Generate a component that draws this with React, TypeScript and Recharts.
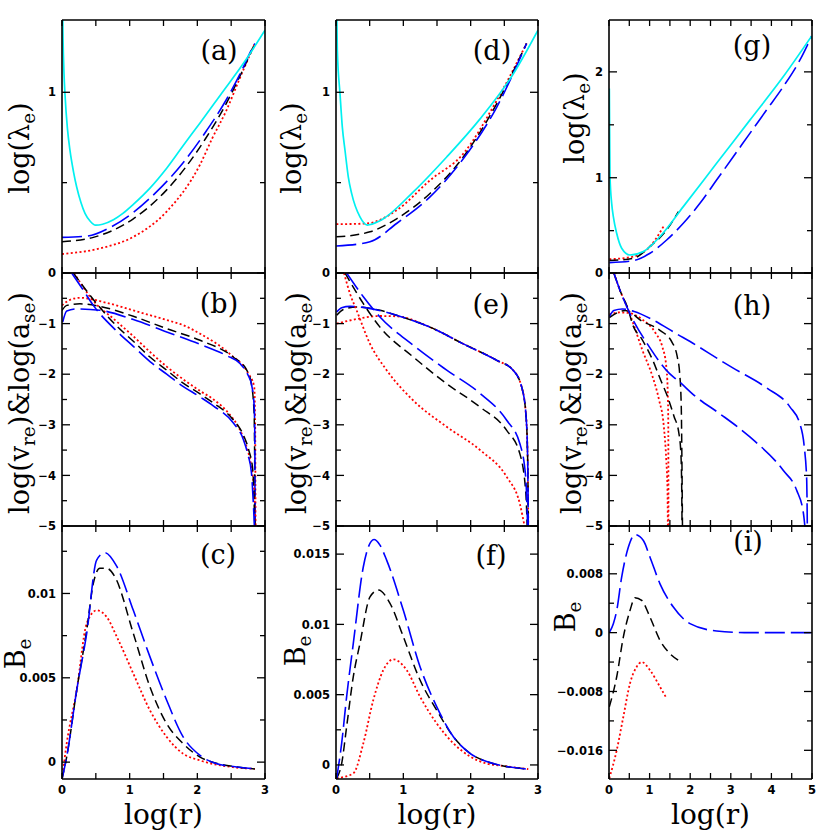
import React from 'react';
import { LineChart, Line, XAxis, YAxis } from 'recharts';

type Pt = [number, number];

// ---- (a) log(lambda_e), column 1 ----
const aCyan: Pt[] = [[0.004, 1.6], [0.015, 1.3], [0.03, 1.1], [0.044, 0.99], [0.08, 0.8], [0.118, 0.678], [0.17, 0.56], [0.217, 0.476], [0.28, 0.39], [0.34, 0.33], [0.42, 0.285], [0.497, 0.265], [0.6, 0.27], [0.76, 0.295], [0.9, 0.33], [1.054, 0.38], [1.3, 0.47], [1.547, 0.58], [1.8, 0.71], [2.04, 0.83], [2.36, 0.995], [2.7, 1.17], [3.0, 1.344]];
const aBlue: Pt[] = [[0, 0.197], [0.365, 0.204], [0.71, 0.252], [1.054, 0.335], [1.4, 0.45], [1.79, 0.61], [2.14, 0.79], [2.43, 0.96], [2.63, 1.1], [2.83, 1.257], [2.85, 1.27]];
const aBlack: Pt[] = [[0, 0.173], [0.463, 0.197], [1.054, 0.3], [1.547, 0.46], [2.12, 0.743], [2.43, 0.94], [2.63, 1.09], [2.85, 1.27]];
const aRed: Pt[] = [[0, 0.105], [0.56, 0.136], [1.054, 0.2], [1.547, 0.34], [2.04, 0.6], [2.22, 0.745], [2.43, 0.9], [2.63, 1.08], [2.85, 1.27]];

// ---- (b) log(v_re) & log(a_se), column 1 ----
const bBlueA: Pt[] = [[0.01, -0.97], [0.07, -0.75], [0.217, -0.71], [0.56, -0.737], [1.054, -0.92], [1.547, -1.165], [2.04, -1.41], [2.43, -1.63], [2.63, -1.79], [2.75, -2.02], [2.8, -2.2], [2.84, -2.63], [2.85, -3.3], [2.852, -5.05]];
const bBlackA: Pt[] = [[0, -0.74], [0.07, -0.64], [0.266, -0.61], [0.56, -0.66], [1.054, -0.856], [1.547, -1.1], [2.04, -1.33], [2.53, -1.66], [2.73, -1.92], [2.8, -2.2], [2.84, -2.8], [2.853, -5.05]];
const bRedA: Pt[] = [[0, -0.64], [0.118, -0.53], [0.266, -0.49], [0.66, -0.59], [1.054, -0.74], [1.547, -0.93], [1.79, -1.03], [2.04, -1.2], [2.48, -1.6], [2.75, -1.98], [2.84, -2.24], [2.855, -3.04], [2.86, -5.05]];
const bBlueV: Pt[] = [[0.143, 0], [0.315, -0.34], [0.463, -0.64], [0.81, -1.15], [1.054, -1.45], [1.3, -1.75], [1.547, -2.0], [1.744, -2.2], [2.04, -2.45], [2.24, -2.63], [2.53, -2.96], [2.68, -3.29], [2.75, -3.6], [2.8, -3.95], [2.83, -4.61], [2.845, -5.05]];
const bBlackV: Pt[] = [[0.167, 0], [0.34, -0.31], [0.51, -0.6], [0.81, -1.05], [1.054, -1.35], [1.3, -1.66], [1.547, -1.92], [1.744, -2.13], [2.04, -2.39], [2.24, -2.57], [2.53, -2.9], [2.68, -3.2], [2.76, -3.5], [2.82, -3.9], [2.85, -5.05]];
const bRedV: Pt[] = [[0.177, 0], [0.315, -0.28], [0.414, -0.47], [0.81, -0.96], [1.054, -1.25], [1.3, -1.56], [1.547, -1.85], [1.79, -2.1], [2.04, -2.33], [2.24, -2.5], [2.48, -2.8], [2.63, -3.1], [2.72, -3.4], [2.8, -3.85], [2.84, -4.3], [2.86, -5.05]];

// ---- (c) B_e, column 1 ----
const cBlue: Pt[] = [[0, -0.001], [0.069, 0.0003], [0.217, 0.00426], [0.365, 0.00763], [0.512, 0.01198], [0.635, 0.01242], [0.81, 0.0116], [1.054, 0.009], [1.3, 0.00624], [1.547, 0.00367], [1.79, 0.0015], [2.04, 0.0004], [2.29, -0.0001], [2.53, -0.00026], [2.85, -0.0004]];
const cBlack: Pt[] = [[0, -0.001], [0.069, 0.0003], [0.217, 0.00426], [0.365, 0.00783], [0.463, 0.0106], [0.56, 0.01149], [0.66, 0.01149], [0.78, 0.011], [1.054, 0.00763], [1.3, 0.00446], [1.547, 0.00228], [1.79, 0.0011], [2.04, 0.0003], [2.53, -0.00026], [2.85, -0.0004]];
const cRed: Pt[] = [[0, -0.001], [0.069, 0.0011], [0.217, 0.00426], [0.365, 0.00822], [0.512, 0.009], [0.66, 0.00861], [0.81, 0.00743], [1.054, 0.00525], [1.3, 0.00307], [1.547, 0.00149], [1.79, 0.0005], [2.04, 0.0001], [2.53, -0.0003], [2.85, -0.0004]];

// ---- (d) log(lambda_e), column 2 ----
const dCyan: Pt[] = [[0.004, 1.6], [0.02, 1.23], [0.06, 0.99], [0.094, 0.807], [0.134, 0.678], [0.183, 0.531], [0.233, 0.439], [0.356, 0.31], [0.465, 0.265], [0.653, 0.289], [1.148, 0.449], [1.644, 0.642], [2.14, 0.853], [2.63, 1.1], [3.0, 1.344]];
const dBlue: Pt[] = [[0.005, 0.149], [0.505, 0.173], [0.9, 0.274], [1.396, 0.421], [1.89, 0.632], [2.386, 0.917], [2.83, 1.27]];
const dBlack: Pt[] = [[0.005, 0.2], [0.505, 0.228], [0.9, 0.3], [1.396, 0.44], [1.89, 0.642], [2.386, 0.936], [2.83, 1.27]];
const dRed: Pt[] = [[0.005, 0.27], [0.455, 0.274], [0.9, 0.347], [1.396, 0.513], [1.89, 0.66], [2.386, 0.954], [2.83, 1.27]];

// ---- (e) log(v_re) & log(a_se), column 2 ----
const eBlueA: Pt[] = [[0.01, -0.77], [0.084, -0.685], [0.208, -0.66], [0.455, -0.69], [0.9, -0.836], [1.396, -1.07], [1.89, -1.4], [2.386, -1.725], [2.63, -1.92], [2.757, -2.25], [2.82, -2.78], [2.847, -3.7], [2.856, -5.05]];
const eBlackA: Pt[] = [[0.01, -0.835], [0.109, -0.72], [0.307, -0.67], [0.653, -0.737], [0.9, -0.836], [1.396, -1.07], [1.89, -1.4], [2.386, -1.725], [2.63, -1.92], [2.757, -2.25], [2.82, -2.78], [2.847, -3.7], [2.856, -5.05]];
const eRedA: Pt[] = [[0.01, -1.0], [0.307, -0.91], [0.653, -0.85], [0.9, -0.856], [1.396, -1.07], [1.89, -1.4], [2.386, -1.725], [2.63, -1.92], [2.757, -2.25], [2.82, -2.78], [2.847, -3.7], [2.856, -5.05]];
const eBlueV: Pt[] = [[0.158, 0], [0.406, -0.47], [0.653, -0.87], [1.148, -1.43], [1.644, -1.92], [2.14, -2.38], [2.535, -2.91], [2.73, -3.37], [2.817, -4.03], [2.847, -5.05]];
const eBlackV: Pt[] = [[0.134, 0], [0.406, -0.606], [0.653, -1.07], [1.148, -1.66], [1.644, -2.19], [2.14, -2.65], [2.535, -3.11], [2.73, -3.57], [2.82, -4.36], [2.84, -5.05]];
const eRedV: Pt[] = [[0.119, 0], [0.208, -0.41], [0.307, -0.74], [0.505, -1.4], [0.752, -1.92], [1.148, -2.52], [1.644, -3.04], [2.14, -3.5], [2.535, -4.03], [2.73, -4.56], [2.807, -5.05]];

// ---- (f) B_e, column 2 ----
const fBlue: Pt[] = [[0.01, -0.00095], [0.084, 0.00154], [0.158, 0.00486], [0.257, 0.00865], [0.406, 0.0141], [0.48, 0.0155], [0.564, 0.01604], [0.653, 0.01564], [0.752, 0.01457], [1.0, 0.011], [1.248, 0.00699], [1.495, 0.00415], [1.743, 0.00201], [1.99, 0.00083], [2.238, 0.00024], [2.485, -0.00007], [2.856, -0.0003]];
const fBlack: Pt[] = [[0.01, -0.00095], [0.084, 0.0001], [0.158, 0.00272], [0.257, 0.00628], [0.356, 0.00865], [0.505, 0.01196], [0.629, 0.01244], [0.802, 0.0115], [1.0, 0.00912], [1.248, 0.00604], [1.495, 0.0039], [1.743, 0.00201], [1.99, 0.00083], [2.238, 0.00024], [2.485, -0.00007], [2.856, -0.0003]];
const fRed: Pt[] = [[0.01, -0.00095], [0.257, -0.0006], [0.406, 0.00154], [0.554, 0.00462], [0.703, 0.00675], [0.851, 0.00751], [1.05, 0.00675], [1.248, 0.00486], [1.495, 0.00296], [1.743, 0.00154], [1.99, 0.0006], [2.238, 0.0001], [2.485, -0.00007], [2.856, -0.0003]];

// ---- (g) log(lambda_e), column 3 ----
const gCyan: Pt[] = [[0.008, 1.843], [0.016, 1.418], [0.025, 1.01], [0.066, 0.758], [0.107, 0.632], [0.189, 0.475], [0.312, 0.334], [0.517, 0.27], [0.846, 0.302], [1.256, 0.444], [1.83, 0.727], [2.65, 1.136], [3.47, 1.544], [4.29, 1.953], [4.99, 2.337]];
const gBlue: Pt[] = [[0.008, 0.198], [0.6, 0.217], [1.01, 0.287], [1.42, 0.412], [1.83, 0.57], [2.24, 0.758], [2.65, 0.978], [3.06, 1.198], [3.47, 1.419], [3.88, 1.639], [4.29, 1.859], [4.7, 2.11], [4.99, 2.337]];
const gBlack: Pt[] = [[0.008, 0.217], [0.6, 0.239], [1.01, 0.35], [1.42, 0.507], [1.71, 0.68]];
const gRed: Pt[] = [[0.008, 0.23], [0.6, 0.255], [1.01, 0.35], [1.34, 0.538]];

// ---- (h) log(v_re) & log(a_se), column 3 ----
const hBlueA: Pt[] = [[0.008, -0.86], [0.12, -0.74], [0.33, -0.71], [0.62, -0.76], [1.07, -0.92], [1.64, -1.19], [2.13, -1.42], [2.71, -1.71], [3.06, -1.88], [3.88, -2.27], [4.46, -2.65], [4.7, -2.98], [4.81, -3.44], [4.87, -4.1], [4.885, -5.05]];
const hBlackA: Pt[] = [[0.008, -0.88], [0.4, -0.74], [0.82, -0.955], [1.23, -1.12], [1.56, -1.38], [1.68, -1.65], [1.74, -1.98], [1.78, -2.64], [1.795, -3.62], [1.81, -5.05]];
const hRedA: Pt[] = [[0.008, -0.82], [0.25, -0.78], [0.49, -0.79], [0.82, -0.92], [1.15, -1.19], [1.31, -1.45], [1.41, -1.84], [1.445, -2.31], [1.46, -2.96], [1.465, -5.05]];
const hBlueV: Pt[] = [[0.12, 0], [0.27, -0.34], [0.49, -0.76], [0.985, -1.45], [1.48, -1.98], [1.72, -2.14], [2.13, -2.44], [2.71, -2.77], [3.47, -3.24], [4.29, -3.9], [4.62, -4.29], [4.79, -4.755], [4.83, -5.05]];
const hBlackV: Pt[] = [[0.12, 0], [0.27, -0.34], [0.49, -0.76], [0.57, -0.99], [0.82, -1.32], [1.07, -1.71], [1.27, -2.11], [1.44, -2.44], [1.6, -2.83], [1.72, -3.16], [1.77, -3.56], [1.79, -4.2], [1.8, -5.05]];
const hRedV: Pt[] = [[0.12, 0], [0.27, -0.34], [0.49, -0.76], [0.62, -1.05], [0.82, -1.52], [1.07, -2.04], [1.23, -2.5], [1.35, -3.03], [1.41, -3.69], [1.44, -4.28], [1.45, -5.05]];

// ---- (i) B_e, column 3 ----
const iBlue: Pt[] = [[0.008, 0], [0.107, 0.00122], [0.19, 0.003], [0.312, 0.00755], [0.476, 0.0116], [0.64, 0.01333], [0.846, 0.01252], [1.01, 0.01026], [1.256, 0.00664], [1.585, 0.00348], [1.995, 0.00122], [2.65, 0.00023], [3.47, 0], [4.99, 0]];
const iBlack: Pt[] = [[0.008, -0.0101], [0.19, -0.006], [0.353, -0.0006], [0.517, 0.003], [0.64, 0.00475], [0.805, 0.00438], [1.01, 0.0021], [1.256, -0.00104], [1.5, -0.00285], [1.71, -0.00375]];
const iRed: Pt[] = [[0.008, -0.0198], [0.19, -0.016], [0.353, -0.01144], [0.517, -0.0069], [0.68, -0.00466], [0.805, -0.004], [1.01, -0.0051], [1.256, -0.00737], [1.42, -0.00895]];

// ---- axes ----
const xTicks3 = [0, 0.5, 1, 1.5, 2, 2.5, 3];
const xLabels3 = [0, 1, 2, 3];
const xTicks5 = [0, 0.5, 1, 1.5, 2, 2.5, 3, 3.5, 4, 4.5, 5];
const xLabels5 = [0, 1, 2, 3, 4, 5];
const lamTicks = [0.5, 1];
const lamLabels = [1];
const gTicks = [0.5, 1, 1.5, 2];
const gLabels = [1, 2];
const velTicks = [0, -0.5, -1, -1.5, -2, -2.5, -3, -3.5, -4, -4.5, -5];
const velLabels = [0, -1, -2, -3, -4, -5];
const cTicks = [0, 0.0025, 0.005, 0.0075, 0.01, 0.0125];
const cLabels = [0, 0.005, 0.01];
const fTicks = [0, 0.0025, 0.005, 0.0075, 0.01, 0.0125, 0.015];
const fLabels = [0, 0.005, 0.01, 0.015];
const iTicks = [-0.016, -0.012, -0.008, -0.004, 0, 0.004, 0.008, 0.012];
const iLabels = [-0.016, -0.008, 0, 0.008];

const BLUE = '#0000ff';
const BLACK = '#000000';
const RED = '#ff0000';
const CYAN = '#00f0f0';

const COLS = [{ left: 62, width: 203 }, { left: 336, width: 202 }, { left: 609, width: 203 }];
const ROWS = [{ top: 20, height: 253 }, { top: 273, height: 253 }, { top: 526, height: 253 }];

type Style = 'cyan' | 'blue' | 'black' | 'red';
const lineStyle: Record<Style, { stroke: string; dash?: string; w: number }> = {
  cyan: { stroke: CYAN, w: 1.7 },
  blue: { stroke: BLUE, dash: '20 6', w: 1.6 },
  black: { stroke: BLACK, dash: '9 5', w: 1.5 },
  red: { stroke: RED, dash: '2 2.4', w: 1.8 },
};

type Panel = {
  col: number;
  row: number;
  xDomain: [number, number];
  xTicks: number[];
  xLabels: number[];
  yDomain: [number, number];
  yTicks: number[];
  yLabels: number[];
  series: [Pt[], Style][];
};

const panels: Panel[] = [
  { col: 0, row: 0, xDomain: [0, 3], xTicks: xTicks3, xLabels: [], yDomain: [0, 1.4], yTicks: lamTicks, yLabels: lamLabels, series: [[aRed, 'red'], [aBlack, 'black'], [aBlue, 'blue'], [aCyan, 'cyan']] },
  { col: 0, row: 1, xDomain: [0, 3], xTicks: xTicks3, xLabels: [], yDomain: [-5, 0], yTicks: velTicks, yLabels: velLabels, series: [[bRedA, 'red'], [bBlackA, 'black'], [bBlueA, 'blue'], [bRedV, 'red'], [bBlackV, 'black'], [bBlueV, 'blue']] },
  { col: 0, row: 2, xDomain: [0, 3], xTicks: xTicks3, xLabels: xLabels3, yDomain: [-0.001, 0.014], yTicks: cTicks, yLabels: cLabels, series: [[cRed, 'red'], [cBlack, 'black'], [cBlue, 'blue']] },
  { col: 1, row: 0, xDomain: [0, 3], xTicks: xTicks3, xLabels: [], yDomain: [0, 1.4], yTicks: lamTicks, yLabels: lamLabels, series: [[dRed, 'red'], [dBlack, 'black'], [dBlue, 'blue'], [dCyan, 'cyan']] },
  { col: 1, row: 1, xDomain: [0, 3], xTicks: xTicks3, xLabels: [], yDomain: [-5, 0], yTicks: velTicks, yLabels: velLabels, series: [[eRedA, 'red'], [eBlackA, 'black'], [eBlueA, 'blue'], [eRedV, 'red'], [eBlackV, 'black'], [eBlueV, 'blue']] },
  { col: 1, row: 2, xDomain: [0, 3], xTicks: xTicks3, xLabels: xLabels3, yDomain: [-0.001, 0.017], yTicks: fTicks, yLabels: fLabels, series: [[fRed, 'red'], [fBlack, 'black'], [fBlue, 'blue']] },
  { col: 2, row: 0, xDomain: [0, 5], xTicks: xTicks5, xLabels: [], yDomain: [0.1, 2.49], yTicks: gTicks, yLabels: gLabels, series: [[gRed, 'red'], [gBlack, 'black'], [gBlue, 'blue'], [gCyan, 'cyan']] },
  { col: 2, row: 1, xDomain: [0, 5], xTicks: xTicks5, xLabels: [], yDomain: [-5, 0], yTicks: velTicks, yLabels: velLabels, series: [[hRedA, 'red'], [hBlackA, 'black'], [hBlueA, 'blue'], [hRedV, 'red'], [hBlackV, 'black'], [hBlueV, 'blue']] },
  { col: 2, row: 2, xDomain: [0, 5], xTicks: xTicks5, xLabels: xLabels5, yDomain: [-0.0199, 0.0145], yTicks: iTicks, yLabels: iLabels, series: [[iRed, 'red'], [iBlack, 'black'], [iBlue, 'blue']] },
];

const letters = [
  { t: '(a)', x: 219, y: 50 }, { t: '(b)', x: 219, y: 303 }, { t: '(c)', x: 218, y: 554 },
  { t: '(d)', x: 492, y: 50 }, { t: '(e)', x: 491, y: 304 }, { t: '(f)', x: 491, y: 555 },
  { t: '(g)', x: 752, y: 45 }, { t: '(h)', x: 752, y: 305 }, { t: '(i)', x: 748, y: 541 },
];

const tickFont: React.CSSProperties = { fontFamily: '"DejaVu Sans", sans-serif', fontWeight: 'bold', fontSize: 11.5, fill: '#000' };
const serif = '"DejaVu Serif", serif';

const has = (arr: number[], v: number) => arr.some((a) => Math.abs(a - v) < 1e-9);
const fmt = (v: number) => (v < 0 ? '\u2212' : '') + String(Math.abs(v));

type Side = 'bottom' | 'top' | 'left' | 'right';

// ticks point into the plot; labels only where asked
const tickFor = (side: Side, labels: number[], showText: boolean) => (props: any) => {
  const { x, y, payload } = props;
  const v = payload.value as number;
  const lab = has(labels, v);
  const len = side === 'left' || side === 'right' ? (lab ? 8 : 5) : 6;
  let x2 = x;
  let y2 = y;
  if (side === 'bottom') y2 = y - len;
  if (side === 'top') y2 = y + len;
  if (side === 'left') x2 = x + len;
  if (side === 'right') x2 = x - len;
  return (
    <g>
      <line x1={x} y1={y} x2={x2} y2={y2} stroke="#000" strokeWidth={1.3} />
      {showText && lab && side === 'bottom' && (
        <text x={x} y={y + 15} textAnchor="middle" style={tickFont}>{fmt(v)}</text>
      )}
      {showText && lab && side === 'left' && (
        <text x={x - 6} y={y + 4.2} textAnchor="end" style={tickFont}>{fmt(v)}</text>
      )}
    </g>
  );
};

// outer space around each plot box (axes take 1px of it)
const ML = 62;
const MR = 8;
const MT = 10;
const MB = 26;

function PanelChart({ p }: { p: Panel }) {
  const c = COLS[p.col];
  const r = ROWS[p.row];
  const axisLine = { stroke: '#000', strokeWidth: 1.6 };
  return (
    <div style={{ position: 'absolute', left: c.left - ML, top: r.top - MT }}>
      <LineChart width={c.width + ML + MR} height={r.height + MT + MB} margin={{ top: MT - 1, right: MR - 1, bottom: MB - 1, left: ML - 1 }}>
        <XAxis xAxisId="b" dataKey="x" type="number" domain={p.xDomain} ticks={p.xTicks} interval={0} allowDataOverflow height={1} tickSize={0} tickMargin={0} axisLine={axisLine} tickLine={false} tick={tickFor('bottom', p.xLabels, true)} />
        <XAxis xAxisId="t" orientation="top" dataKey="x" type="number" domain={p.xDomain} ticks={p.xTicks} interval={0} allowDataOverflow height={1} tickSize={0} tickMargin={0} axisLine={axisLine} tickLine={false} tick={tickFor('top', [], false)} />
        <YAxis yAxisId="l" type="number" domain={p.yDomain} ticks={p.yTicks} interval={0} allowDataOverflow width={1} tickSize={0} tickMargin={0} axisLine={axisLine} tickLine={false} tick={tickFor('left', p.yLabels, true)} />
        <YAxis yAxisId="r" orientation="right" type="number" domain={p.yDomain} ticks={p.yTicks} interval={0} allowDataOverflow width={1} tickSize={0} tickMargin={0} axisLine={axisLine} tickLine={false} tick={tickFor('right', p.yLabels, false)} />
        {p.series.map(([pts, st], i) => {
          const s = lineStyle[st];
          return (
            <Line
              key={i}
              xAxisId="b"
              yAxisId="l"
              data={pts.map(([x, y]) => ({ x, y }))}
              dataKey="y"
              type="monotone"
              stroke={s.stroke}
              strokeWidth={s.w}
              strokeDasharray={s.dash}
              dot={false}
              activeDot={false}
              isAnimationActive={false}
            />
          );
        })}
      </LineChart>
    </div>
  );
}

const subStyle: React.CSSProperties = { fontSize: '0.68em', verticalAlign: '-0.32em' };
const yTitleLam = (
  <span>log(λ<sub style={subStyle}>e</sub>)</span>
);
const yTitleVel = (
  <span>
    log(v<sub style={subStyle}>re</sub>)&amp;log(a<sub style={subStyle}>se</sub>)
  </span>
);
const yTitleB = (
  <span>B<sub style={subStyle}>e</sub></span>
);

const yTitles = [
  { el: yTitleLam, x: 22, y: 148 }, { el: yTitleVel, x: 22, y: 403 }, { el: yTitleB, x: 18, y: 654 },
  { el: yTitleLam, x: 294, y: 148 }, { el: yTitleVel, x: 299, y: 403 }, { el: yTitleB, x: 298, y: 651 },
  { el: yTitleLam, x: 577, y: 118 }, { el: yTitleVel, x: 574, y: 403 }, { el: yTitleB, x: 568, y: 617 },
];

export default function App() {
  return (
    <div style={{ position: 'absolute', left: 0, top: 0, width: 830, height: 830, background: '#fff', overflow: 'hidden' }}>
      {panels.map((p, i) => (
        <PanelChart key={i} p={p} />
      ))}
      {letters.map((l) => (
        <div key={l.t} style={{ position: 'absolute', left: l.x, top: l.y, transform: 'translate(-50%, -50%)', fontFamily: serif, fontSize: 27, lineHeight: 1, whiteSpace: 'nowrap' }}>
          {l.t}
        </div>
      ))}
      {yTitles.map((t, i) => (
        <div key={i} style={{ position: 'absolute', left: t.x, top: t.y, transform: 'translate(-50%, -50%) rotate(-90deg)', fontFamily: serif, fontSize: 27, lineHeight: 1, whiteSpace: 'nowrap' }}>
          {t.el}
        </div>
      ))}
      {COLS.map((c, i) => (
        <div key={i} style={{ position: 'absolute', left: c.left + c.width / 2, top: 815, transform: 'translate(-50%, -50%)', fontFamily: serif, fontSize: 28, lineHeight: 1, whiteSpace: 'nowrap' }}>
          log(r)
        </div>
      ))}
    </div>
  );
}
